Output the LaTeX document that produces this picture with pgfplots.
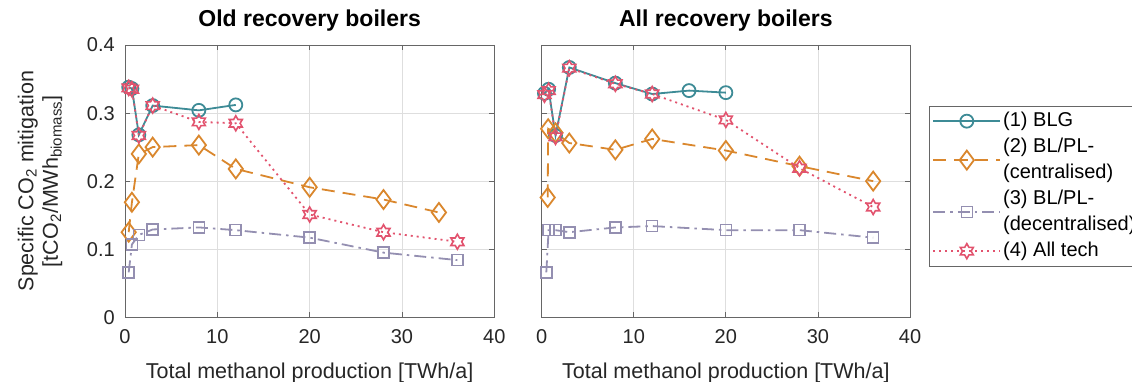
\documentclass[border=0pt]{standalone}
\usepackage{pgfplots}
\pgfplotsset{compat=1.18}
\usepackage{fontspec}
\setmainfont{Liberation Sans}
\definecolor{cBLG}{RGB}{61,139,150}
\definecolor{cCen}{RGB}{218,135,45}
\definecolor{cDec}{RGB}{148,143,177}
\definecolor{cAll}{RGB}{226,83,110}
\pgfdeclareplotmark{hexagram}{%
  \pgfpathmoveto{\pgfpointpolar{90}{\pgfplotmarksize}}%
  \pgfpathlineto{\pgfpointpolar{120}{0.577\pgfplotmarksize}}%
  \pgfpathlineto{\pgfpointpolar{150}{\pgfplotmarksize}}%
  \pgfpathlineto{\pgfpointpolar{180}{0.577\pgfplotmarksize}}%
  \pgfpathlineto{\pgfpointpolar{210}{\pgfplotmarksize}}%
  \pgfpathlineto{\pgfpointpolar{240}{0.577\pgfplotmarksize}}%
  \pgfpathlineto{\pgfpointpolar{270}{\pgfplotmarksize}}%
  \pgfpathlineto{\pgfpointpolar{300}{0.577\pgfplotmarksize}}%
  \pgfpathlineto{\pgfpointpolar{330}{\pgfplotmarksize}}%
  \pgfpathlineto{\pgfpointpolar{0}{0.577\pgfplotmarksize}}%
  \pgfpathlineto{\pgfpointpolar{30}{\pgfplotmarksize}}%
  \pgfpathlineto{\pgfpointpolar{60}{0.577\pgfplotmarksize}}%
  \pgfpathclose
  \pgfusepathqstroke}

\pgfplotsset{
  myaxis/.style={
    scale only axis, height=272.3pt,
    xmin=0, xmax=40, ymin=0, ymax=0.4,
    xtick={0,10,20,30,40}, ytick={0,0.1,0.2,0.3,0.4},
    tick align=inside, major tick length=5pt,
    grid=major, major grid style={black!13, line width=0.8pt},
    axis line style={black!60, line width=0.8pt},
    every tick/.style={black!60, line width=0.8pt},
    /pgf/number format/assume math mode=true,
    tick label style={font=\fontsize{20}{24}\selectfont, text=black!85, inner sep=0pt},
    xticklabel style={anchor=base, yshift=-26pt},
    yticklabel style={anchor=base east, xshift=-10pt, yshift=-7pt},
    title style={font=\fontsize{23}{27}\selectfont\bfseries, at={(axis description cs:0.5,1.0477)}, anchor=base},
    xlabel style={font=\fontsize{21.5}{25}\selectfont, text=black!85, at={(axis description cs:0.5,-0.2240)}, anchor=base},
    xlabel={Total methanol production [TWh/a]},
    legend image code/.code={\draw[mark repeat=2,mark phase=2,#1] plot coordinates {(0pt,0pt) (33.5pt,0pt) (67pt,0pt)};},
  },
  sBLG/.style={color=cBLG, line width=1.8pt, mark=o, mark size=6.5pt, mark options={solid, line width=1.8pt}},
  sCen/.style={color=cCen, line width=1.8pt, dash pattern=on 13pt off 8pt, mark=diamond, mark size=9.5pt, mark options={solid, line width=1.8pt}},
  sDec/.style={color=cDec, line width=1.8pt, dash pattern=on 12pt off 5pt on 2.5pt off 5pt, mark=square, mark size=5.5pt, mark options={solid, line width=1.6pt}},
  sAll/.style={color=cAll, line width=1.8pt, dash pattern=on 2pt off 4pt, mark=hexagram, mark size=7.5pt, mark options={solid, line width=1.6pt}},
}

\begin{document}
\begin{tikzpicture}
\path[use as bounding box] (0pt,0pt) rectangle (1132pt,382pt);

\begin{axis}[myaxis, at={(125pt,64.7pt)}, anchor=south west, width=369.3pt,
  title={Old recovery boilers},
  ylabel={Specific CO\textsubscript{2} mitigation\\{}[tCO\textsubscript{2}/MWh\textsubscript{biomass}]},
  ylabel style={font=\fontsize{21.5}{24.5}\selectfont, text=black!85, align=center, inner sep=0pt, at={(axis description cs:-0.1694,0.5)}, anchor=south},
]
\addplot[sBLG] coordinates {(0.4,0.338) (0.75,0.336) (1.5,0.268) (3,0.311) (8,0.304) (12,0.312)};
\addplot[sCen] coordinates {(0.4,0.125) (0.75,0.169) (1.5,0.240) (3,0.250) (8,0.253) (12,0.218) (20,0.191) (28,0.173) (34,0.154)};
\addplot[sDec] coordinates {(0.4,0.066) (0.75,0.107) (1.5,0.121) (3,0.129) (8,0.132) (12,0.128) (20,0.117) (28,0.095) (36,0.084)};
\addplot[sAll] coordinates {(0.4,0.337) (0.75,0.335) (1.5,0.267) (3,0.311) (8,0.287) (12,0.285) (20,0.151) (28,0.125) (36,0.111)};
\end{axis}

\begin{axis}[myaxis, at={(541.7pt,64.7pt)}, anchor=south west, width=368.3pt,
  title={All recovery boilers},
  yticklabels={},
  legend style={at={(axis description cs:1.0516,0.4816)}, anchor=west, draw=black!60, line width=0.8pt, fill=white,
    font=\fontsize{20}{26}\selectfont, inner xsep=3pt, inner ysep=2pt, row sep=0pt,
    nodes={inner xsep=2pt, inner ysep=0pt, text depth=}},
  legend cell align=left,
]
\addplot[sBLG] coordinates {(0.3,0.329) (0.75,0.335) (1.5,0.267) (3,0.367) (8,0.344) (12,0.328) (16,0.333) (20,0.330)};
\addlegendentry{\strut(1) BLG}
\addplot[sCen] coordinates {(0.65,0.176) (0.7,0.277) (1.5,0.271) (3,0.256) (8,0.246) (12,0.262) (20,0.245) (28,0.222) (36,0.200)};
\addlegendentry{\begin{tabular}{@{}l@{}}(2) BL/PL-\\(centralised)\end{tabular}}
\addplot[sDec] coordinates {(0.5,0.066) (0.75,0.128) (1.5,0.128) (3,0.125) (8,0.132) (12,0.134) (20,0.128) (28,0.128) (36,0.117)};
\addlegendentry{\begin{tabular}{@{}l@{}}(3) BL/PL-\\(decentralised)\end{tabular}}
\addplot[sAll] coordinates {(0.3,0.327) (0.75,0.333) (1.5,0.265) (3,0.366) (8,0.343) (12,0.328) (20,0.290) (28,0.219) (36,0.162)};
\addlegendentry{\strut(4) All tech}
\end{axis}
\end{tikzpicture}
\end{document}
